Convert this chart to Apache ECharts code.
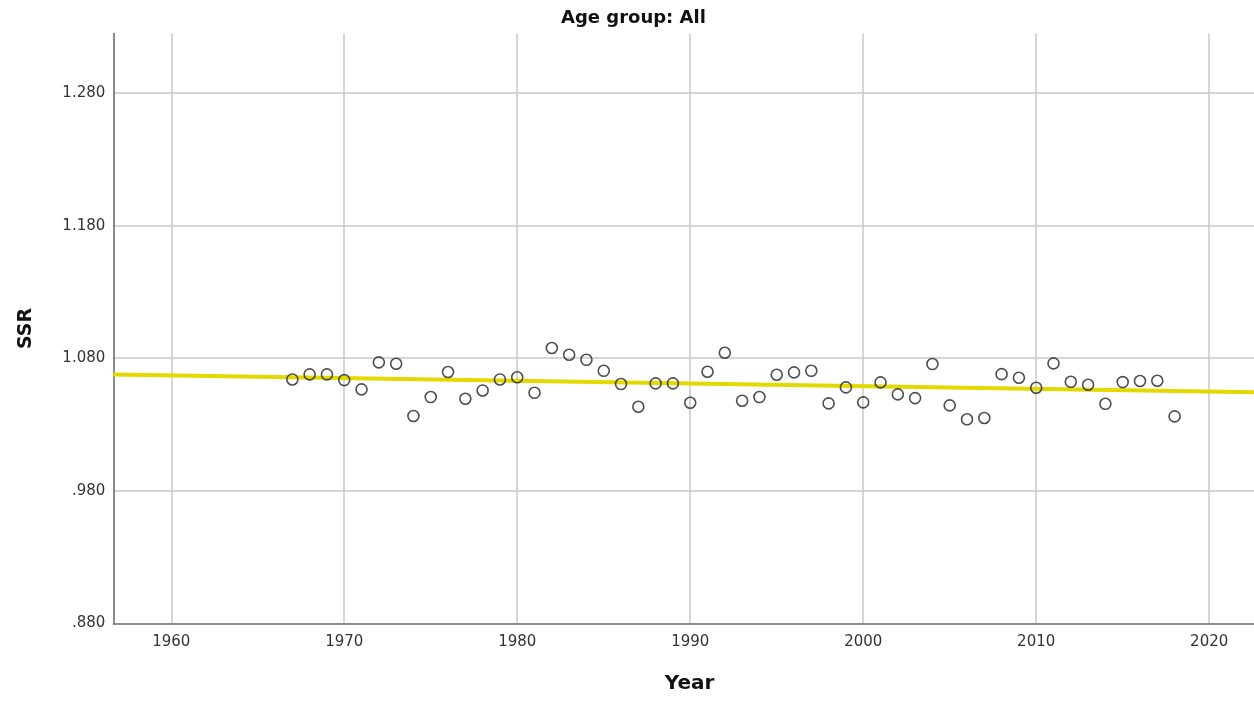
<!DOCTYPE html>
<html>
<head>
<meta charset="utf-8">
<title>SSR by year</title>
<script src="https://cdn.jsdelivr.net/npm/echarts@6/dist/echarts.min.js"></script>
<style>
  html, body { margin: 0; padding: 0; background: #ffffff; }
  #chart { width: 1254px; height: 701px; }
</style>
</head>
<body>
<div id="chart"></div>
<script>
// Observed sex ratio at birth (SSR), one value per year
const years = [
  1967, 1968, 1969, 1970, 1971, 1972, 1973, 1974, 1975, 1976,
  1977, 1978, 1979, 1980, 1981, 1982, 1983, 1984, 1985, 1986,
  1987, 1988, 1989, 1990, 1991, 1992, 1993, 1994, 1995, 1996,
  1997, 1998, 1999, 2000, 2001, 2002, 2003, 2004, 2005, 2006,
  2007, 2008, 2009, 2010, 2011, 2012, 2013, 2014, 2015, 2016,
  2017, 2018
];
const ssr = [
  1.0640, 1.0678, 1.0678, 1.0635, 1.0565, 1.0769, 1.0758, 1.0364, 1.0507, 1.0696,
  1.0494, 1.0557, 1.0640, 1.0656, 1.0539, 1.0877, 1.0826, 1.0788, 1.0705, 1.0605,
  1.0434, 1.0610, 1.0610, 1.0464, 1.0698, 1.0841, 1.0479, 1.0507, 1.0675, 1.0693,
  1.0705, 1.0459, 1.0580, 1.0467, 1.0618, 1.0527, 1.0499, 1.0756, 1.0444, 1.0339,
  1.0349, 1.0680, 1.0653, 1.0577, 1.0761, 1.0622, 1.0600, 1.0456, 1.0620, 1.0628,
  1.0630, 1.0361
];

// Linear fit line, given at the two ends of the year axis
const fitYears = [1956.65, 2022.59];
const fitValues = [1.0677, 1.0543];

// Axis ranges
const xRange = [1956.65, 2022.59];
const yRange = [0.88, 1.325];
const yStep = 0.1;
const xStep = 10;

const FONT = '"DejaVu Sans", Verdana, sans-serif';

const chart = echarts.init(document.getElementById('chart'), null, { renderer: 'canvas' });

function fmtSSR(v) {
  const s = v.toFixed(3);
  return v < 1 ? s.slice(1) : s;
}

chart.setOption({
  animation: false,
  backgroundColor: '#ffffff',
  title: {
    text: 'Age group: All',
    left: 556,
    top: 4,
    textStyle: { fontFamily: FONT, fontSize: 18, fontWeight: 'bold', color: '#111' }
  },
  grid: {
    left: 113.3,
    right: 0,
    top: 33.5,
    bottom: 77.7,
    containLabel: false
  },
  xAxis: {
    type: 'value',
    min: xRange[0],
    max: xRange[1],
    minInterval: xStep,
    maxInterval: xStep,
    name: 'Year',
    nameLocation: 'middle',
    nameGap: 50,
    nameTextStyle: { fontFamily: FONT, fontSize: 20, fontWeight: 'bold', color: '#111', padding: [0, 0, 0, 12] },
    axisLine: { show: true, lineStyle: { color: '#666', width: 1.5 } },
    axisTick: { show: false },
    axisLabel: {
      showMinLabel: false,
      showMaxLabel: false,
      margin: 11,
      fontFamily: FONT,
      fontSize: 15,
      color: '#333',
      formatter: v => (Math.abs(v % xStep) < 1e-6 ? String(Math.round(v)) : '')
    },
    splitLine: { show: true, showMinLine: false, showMaxLine: false, lineStyle: { color: '#c8c8c8', width: 1.5 } }
  },
  yAxis: {
    type: 'value',
    min: yRange[0],
    max: yRange[1],
    interval: yStep,
    name: 'SSR',
    nameLocation: 'middle',
    nameGap: 78,
    nameTextStyle: { fontFamily: FONT, fontSize: 19, fontWeight: 'bold', color: '#111' },
    axisLine: { show: true, lineStyle: { color: '#666', width: 1.5 } },
    axisTick: { show: false },
    axisLabel: {
      showMaxLabel: false,
      margin: 8,
      fontFamily: FONT,
      fontSize: 15,
      color: '#333',
      formatter: fmtSSR
    },
    splitLine: { show: true, showMinLine: false, showMaxLine: false, lineStyle: { color: '#c8c8c8', width: 1.5 } }
  },
  series: [
    {
      name: 'Fit',
      type: 'line',
      data: fitYears.map((y, i) => [y, fitValues[i]]),
      symbol: 'none',
      lineStyle: { color: '#e3d900', width: 4 },
      z: 2,
      silent: true
    },
    {
      name: 'SSR',
      type: 'scatter',
      data: years.map((y, i) => [y, ssr[i]]),
      symbol: 'circle',
      symbolSize: 11,
      itemStyle: { color: 'rgba(255,255,255,0)', borderColor: '#222', borderWidth: 1.6 },
      z: 3
    }
  ]
});
</script>
</body>
</html>
